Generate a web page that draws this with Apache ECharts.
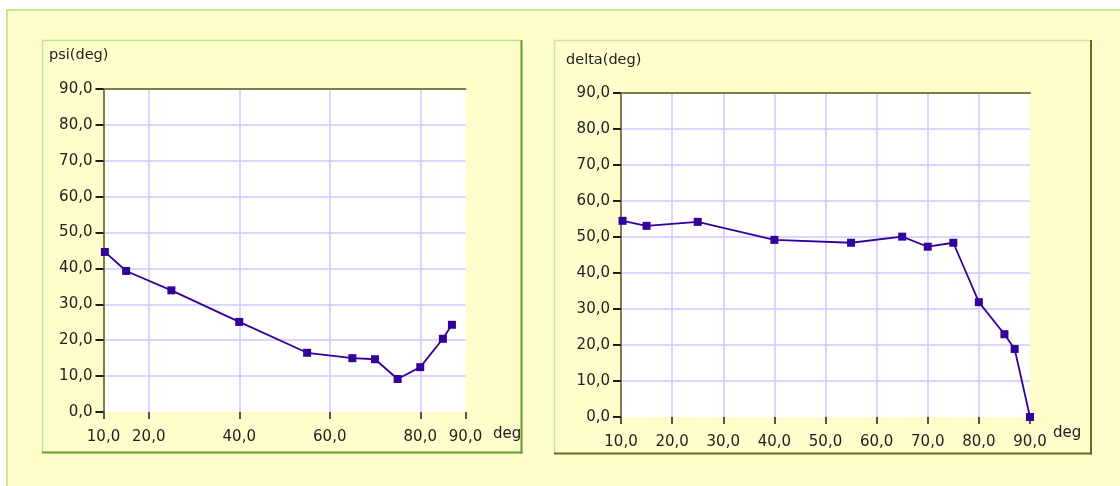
<!DOCTYPE html>
<html>
<head>
<meta charset="utf-8">
<script src="https://cdn.jsdelivr.net/npm/echarts@6/dist/echarts.min.js"></script>
<style>
html,body{margin:0;padding:0;background:#ffffff;}
#chart{width:1120px;height:486px;}
</style>
</head>
<body>
<div id="chart"></div>
<script>
// ---- data ----
const psiTitle = 'psi(deg)';
const deltaTitle = 'delta(deg)';
const xUnit = 'deg';
const psiX = [10.3, 15, 25, 40, 55, 65, 70, 75, 80, 85, 87];
const psiY = [44.6, 39.3, 33.9, 25.1, 16.5, 15.0, 14.7, 9.2, 12.5, 20.4, 24.3];
const deltaX = [10.3, 15, 25, 40, 55, 65, 70, 75, 80, 85, 87, 90];
const deltaY = [54.5, 53.1, 54.2, 49.2, 48.4, 50.1, 47.3, 48.4, 31.9, 23.0, 18.9, 0];
const psiXTicks = [10, 20, 40, 60, 80, 90];
const deltaXTicks = [10, 20, 30, 40, 50, 60, 70, 80, 90];

// ---- styling ----
const FONT = 'DejaVu Sans';
const TXT = '#1e1e1e';
const LINE = '#330099';
const GRIDC = '#cacaff';
const OLIVE = '#7e7e4c';
const YELLOW = '#fffdcb';
const fmt = v => Number(v).toFixed(1).replace('.', ',');

const chart = echarts.init(document.getElementById('chart'), null, {renderer: 'canvas'});

const grids = [
  {left: 103.5, top: 89, width: 362, height: 323},
  {left: 621, top: 93, width: 409, height: 324}
];

function xAxisFor(gi, ticks, nameGap, namePad) {
  return [{
    type: 'value', gridIndex: gi, min: 10, max: 90, position: 'bottom', offset: 4,
    name: xUnit, nameLocation: 'end', nameGap: nameGap, nameMoveOverlap: false,
    nameTextStyle: {fontFamily: FONT, fontSize: 15, color: TXT, align: 'left', verticalAlign: 'top', padding: [namePad, 0, 0, 0]},
    axisLine: {show: false},
    axisTick: {show: true, length: 7, lineStyle: {color: TXT, width: 1.5}, customValues: ticks},
    axisLabel: {show: true, margin: 14, fontFamily: FONT, fontSize: 15, color: TXT, formatter: fmt, customValues: ticks},
    splitLine: {show: true, showMinLine: false, showMaxLine: false, lineStyle: {color: GRIDC, width: 1.5}}
  }, {
    type: 'value', gridIndex: gi, min: 10, max: 90, position: 'top',
    axisLine: {show: true, lineStyle: {color: OLIVE, width: 2}},
    axisTick: {show: false}, axisLabel: {show: false}, splitLine: {show: false}
  }];
}

function yAxisFor(gi) {
  return {
    type: 'value', gridIndex: gi, min: 0, max: 90, interval: 10,
    axisLine: {show: true, lineStyle: {color: OLIVE, width: 2}},
    axisTick: {show: true, length: 8, lineStyle: {color: TXT, width: 2}},
    axisLabel: {show: true, margin: 11, fontFamily: FONT, fontSize: 15, color: TXT, formatter: fmt},
    splitLine: {show: true, showMinLine: false, showMaxLine: false, lineStyle: {color: GRIDC, width: 1.5}},
    z: 3
  };
}

function seriesFor(gi, xs, ys) {
  return {
    type: 'line', xAxisIndex: gi * 2, yAxisIndex: gi,
    data: xs.map((x, i) => [x, ys[i]]),
    symbol: 'rect', symbolSize: 8, showAllSymbol: true,
    lineStyle: {color: LINE, width: 1.8},
    itemStyle: {color: LINE},
    clip: false, animation: false
  };
}

const option = {
  backgroundColor: '#ffffff',
  animation: false,
  textStyle: {fontFamily: FONT},
  graphic: [
    {type: 'rect', shape: {x: 6, y: 9, width: 1120, height: 486}, style: {fill: YELLOW, stroke: null}, z: -10},
    {type: 'line', shape: {x1: 6, y1: 10, x2: 1120, y2: 10}, style: {stroke: '#c8e68a', lineWidth: 2}, z: -9},
    {type: 'line', shape: {x1: 7, y1: 9, x2: 7, y2: 486}, style: {stroke: '#c8e68a', lineWidth: 2}, z: -9},
    {type: 'line', shape: {x1: 42, y1: 40.5, x2: 522, y2: 40.5}, style: {stroke: '#b2ee88', lineWidth: 1.5}, z: -9},
    {type: 'line', shape: {x1: 42.5, y1: 40, x2: 42.5, y2: 453}, style: {stroke: '#b2ee88', lineWidth: 1.5}, z: -9},
    {type: 'line', shape: {x1: 42, y1: 452.5, x2: 522.5, y2: 452.5}, style: {stroke: '#5d9e2e', lineWidth: 2}, z: -9},
    {type: 'line', shape: {x1: 521.5, y1: 40, x2: 521.5, y2: 453.5}, style: {stroke: '#5d9e2e', lineWidth: 2}, z: -9},
    {type: 'line', shape: {x1: 554, y1: 40.5, x2: 1091, y2: 40.5}, style: {stroke: '#c2ea8e', lineWidth: 1.5}, z: -9},
    {type: 'line', shape: {x1: 554.5, y1: 40, x2: 554.5, y2: 454}, style: {stroke: '#c2ea8e', lineWidth: 1.5}, z: -9},
    {type: 'line', shape: {x1: 554, y1: 453.5, x2: 1092, y2: 453.5}, style: {stroke: '#5e7020', lineWidth: 2}, z: -9},
    {type: 'line', shape: {x1: 1091, y1: 40, x2: 1091, y2: 454.5}, style: {stroke: '#5e7020', lineWidth: 2}, z: -9}
  ],
  title: [
    {text: psiTitle, left: 49, top: 48, padding: 0, textStyle: {fontFamily: FONT, fontSize: 14.5, fontWeight: 'normal', color: TXT}},
    {text: deltaTitle, left: 566, top: 53, padding: 0, textStyle: {fontFamily: FONT, fontSize: 14.5, fontWeight: 'normal', color: TXT}}
  ],
  grid: grids.map(g => Object.assign({show: true, backgroundColor: '#ffffff', borderWidth: 0, containLabel: false, outerBoundsMode: 'none'}, g)),
  xAxis: [].concat(xAxisFor(0, psiXTicks, 27.5, 15), xAxisFor(1, deltaXTicks, 23, 9)),
  yAxis: [yAxisFor(0), yAxisFor(1)],
  series: [seriesFor(0, psiX, psiY), seriesFor(1, deltaX, deltaY)]
};
chart.setOption(option);
</script>
</body>
</html>
